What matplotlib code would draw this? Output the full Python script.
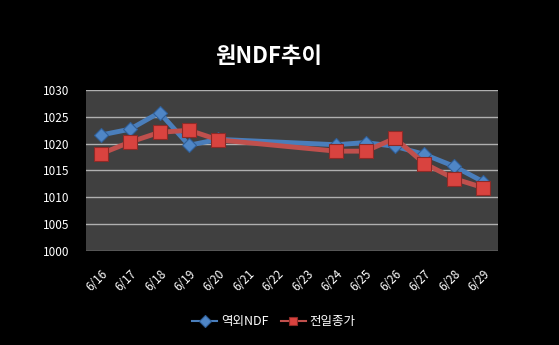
import numpy as np
import matplotlib.pyplot as plt

plt.rcParams['font.family'] = ['Noto Sans CJK KR', 'DejaVu Sans']

# 일자별 값 (주말/휴일은 NaN)
dates = ['6/16', '6/17', '6/18', '6/19', '6/20', '6/21', '6/22',
         '6/23', '6/24', '6/25', '6/26', '6/27', '6/28', '6/29']
ndf = [1021.6, 1022.7, 1025.8, 1019.7, 1020.8, np.nan, np.nan,
       np.nan, 1019.8, 1020.2, 1019.5, 1018.0, 1015.8, 1012.9]
close = [1018.1, 1020.3, 1022.1, 1022.5, 1020.7, np.nan, np.nan,
         np.nan, 1018.6, 1018.6, 1021.0, 1016.3, 1013.5, 1011.8]

x = np.arange(len(dates))
ndf = np.array(ndf)
close = np.array(close)

fig = plt.figure(figsize=(5.59, 3.45), dpi=100, facecolor='black')
ax = fig.add_axes([0.1538, 0.2725, 0.737, 0.4667])
ax.set_facecolor('#404040')

m1 = ~np.isnan(ndf)
m2 = ~np.isnan(close)
ax.plot(x[m1], ndf[m1], color='#4a7ebb', lw=3.5, marker='D', ms=7,
        mfc='#4f86c6', mec='#2f5f99', mew=0.8, label='역외NDF', zorder=3)
ax.plot(x[m2], close[m2], color='#c0504d', lw=3.5, marker='s', ms=10,
        mfc='#d9433f', mec='#8e2a27', mew=0.8, label='전일종가', zorder=4)

ax.set_xlim(-0.5, len(dates) - 0.5)
ax.set_ylim(1000, 1030)
ax.set_yticks(range(1000, 1031, 5))
ax.set_xticks(x)
ax.set_xticklabels(dates, rotation=45, ha='right', rotation_mode='anchor')
ax.grid(axis='y', color='#b0b0b0', lw=1)
ax.set_axisbelow(True)
for s in ax.spines.values():
    s.set_visible(False)
ax.tick_params(colors='white', labelsize=8.5, length=0)
ax.tick_params(axis='y', pad=12)
ax.tick_params(axis='x', pad=12)

fig.text(0.48, 0.835, '원NDF추이', color='white', fontsize=16,
         fontweight='bold', ha='center', va='center')

leg = fig.legend(loc='center', bbox_to_anchor=(0.49, 0.068), ncol=2,
                 frameon=False, fontsize=9, handlelength=2.0,
                 columnspacing=1.0, handletextpad=0.3)
for t in leg.get_texts():
    t.set_color('white')
for h in leg.legend_handles:
    h.set_linewidth(1.5)
    h.set_markersize(6)

fig.savefig('out.png', dpi=100, facecolor='black')
